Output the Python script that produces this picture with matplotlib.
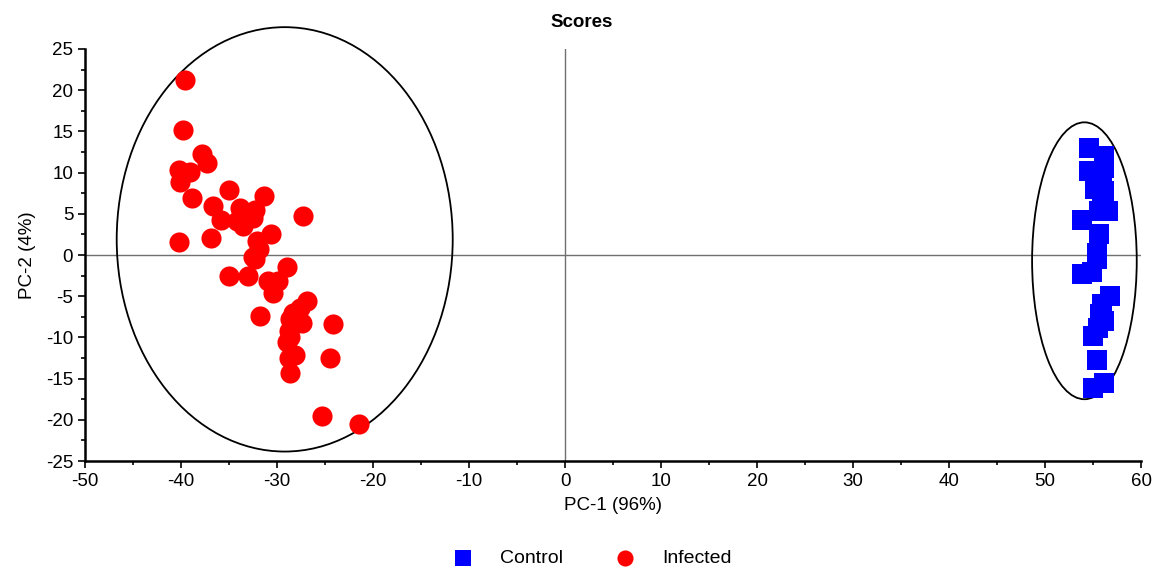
import matplotlib
matplotlib.use("Agg")
import matplotlib.pyplot as plt
from matplotlib.patches import Ellipse
from matplotlib.ticker import MultipleLocator
import numpy as np

plt.rcParams['font.family'] = ['Liberation Sans', 'DejaVu Sans']
plt.rcParams['axes.unicode_minus'] = False

# PCA scores
control_x = [54.6, 56.1, 54.6, 56.1, 55.9, 55.2, 56.1, 55.9, 56.6, 53.9, 55.6, 55.6,
             55.4, 55.4, 53.9, 54.9, 56.8, 55.9, 55.7, 56.1, 55.5, 55.0, 55.4, 56.1, 55.0]
control_y = [13.0, 12.0, 10.2, 10.6, 9.2, 8.0, 7.8, 6.6, 5.4, 4.2, 5.3, 2.5,
             0.3, -0.5, -2.3, -2.1, -5.0, -6.0, -7.2, -8.0, -8.8, -9.8, -12.8, -15.5, -16.1]

infected_x = [-39.6, -39.8, -37.8, -37.3, -40.2, -39.1, -40.1, -38.9, -35.0, -31.4,
              -36.7, -35.8, -33.9, -33.3, -32.5, -34.2, -33.5, -32.3, -27.3, -40.2,
              -36.9, -30.6, -32.1, -31.9, -32.5, -32.3, -29.0, -35.0, -33.0, -30.9,
              -29.9, -30.4, -26.9, -27.6, -28.3, -31.8, -28.6, -27.4, -24.2, -28.8,
              -28.6, -29.0, -28.1, -28.8, -24.5, -28.6, -25.3, -21.5]
infected_y = [21.2, 15.2, 12.2, 11.2, 10.3, 10.1, 8.8, 6.9, 7.9, 7.2,
              5.9, 4.2, 5.7, 4.9, 4.5, 4.1, 3.5, 5.5, 4.7, 1.6,
              2.1, 2.5, 1.7, 0.7, -0.3, -0.5, -1.5, -2.5, -2.5, -3.2,
              -3.1, -4.6, -5.6, -6.4, -7.0, -7.4, -7.8, -8.2, -8.4, -9.2,
              -10.0, -10.6, -12.1, -12.5, -12.5, -14.3, -19.5, -20.5]

# confidence ellipses (center x, center y, width, height)
infected_ell = (-29.2, 1.9, 35.0, 51.5)
control_ell = (54.1, -0.7, 10.9, 33.6)

fig = plt.figure(figsize=(11.52, 5.71), dpi=100)
ax = fig.add_axes([0.0738, 0.1926, 0.9167, 0.7216])

ax.axhline(0, color='#707070', lw=1.0, zorder=1)
ax.axvline(0, color='#707070', lw=1.0, zorder=1)

for cx, cy, w, h in [infected_ell, control_ell]:
    e = Ellipse((cx, cy), w, h, fill=False, edgecolor='black', lw=1.3,
                clip_on=False, zorder=2)
    ax.add_patch(e)

ax.scatter(control_x, control_y, marker='s', s=210, color='#0000ff',
           linewidths=0, zorder=3, label='Control')
ax.scatter(infected_x, infected_y, marker='o', s=210, color='#ff0000',
           linewidths=0, zorder=3, label='Infected')

ax.set_xlim(-50, 60)
ax.set_ylim(-25, 25)
ax.xaxis.set_major_locator(MultipleLocator(10))
ax.xaxis.set_minor_locator(MultipleLocator(5))
ax.yaxis.set_major_locator(MultipleLocator(5))
ax.yaxis.set_minor_locator(MultipleLocator(2.5))

ax.spines['top'].set_visible(False)
ax.spines['right'].set_visible(False)
ax.spines['left'].set_linewidth(1.8)
ax.spines['bottom'].set_linewidth(1.8)
ax.tick_params(which='major', direction='out', length=5, width=1.2, labelsize=13.5)
ax.tick_params(which='minor', direction='out', length=3, width=1.2)

ax.set_xlabel('PC-1 (96%)', fontsize=13.5, labelpad=5)
ax.set_ylabel('PC-2 (4%)', fontsize=13.5, labelpad=7)
fig.text(0.505, 0.96, 'Scores', ha='center', va='center', fontsize=13.5,
         fontweight='bold')

fig.legend(loc='center', bbox_to_anchor=(0.51, 0.022), ncol=2, frameon=False,
           fontsize=14, handletextpad=0.9, columnspacing=2.2, markerscale=0.8)

fig.savefig('out.png', dpi=100)
